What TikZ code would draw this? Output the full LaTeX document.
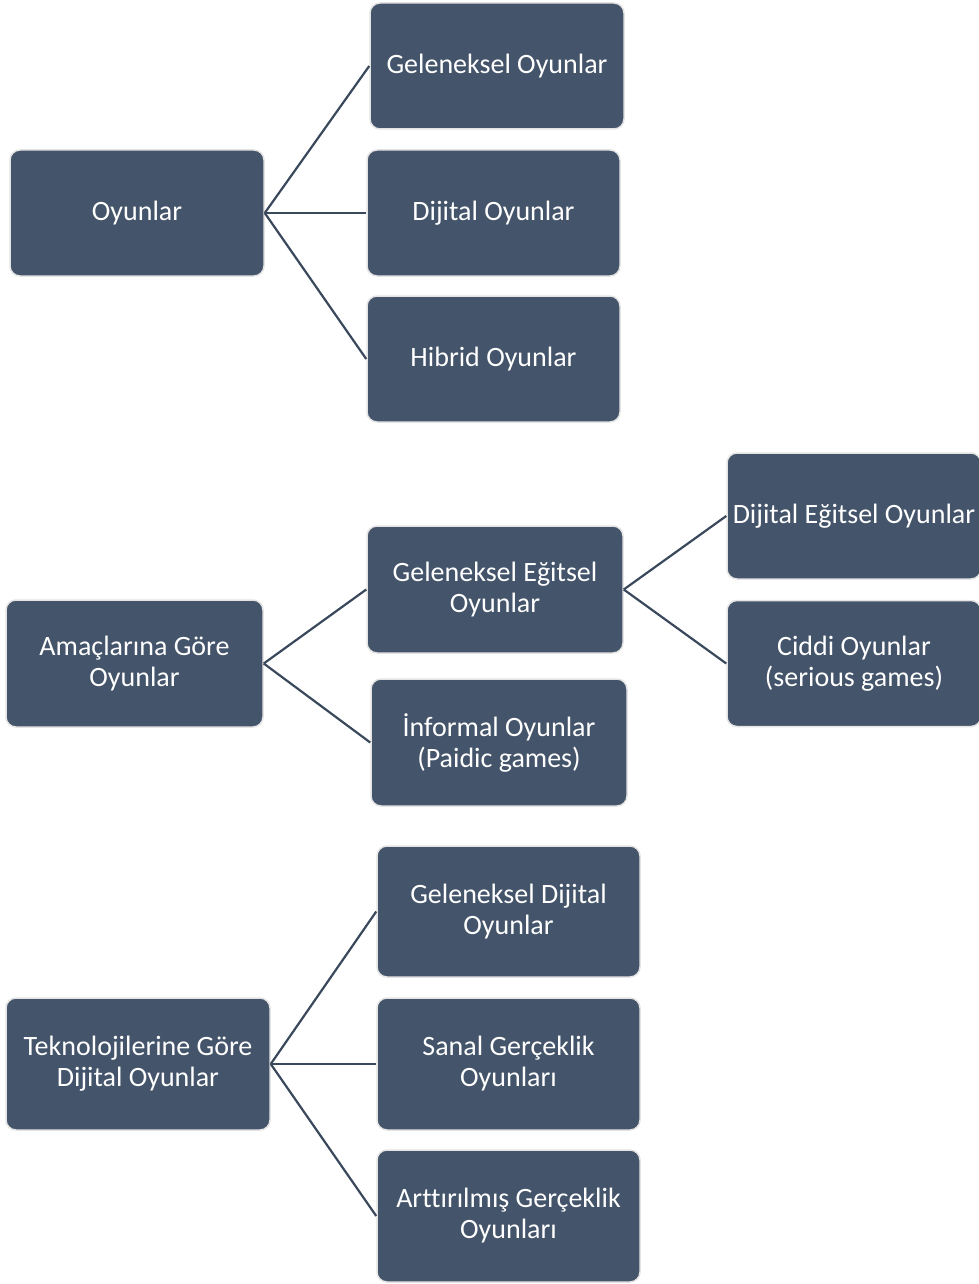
\documentclass[tikz,border=0pt]{standalone}
\usepackage{fontspec}
\setmainfont[Ligatures=NoCommon]{Carlito}
\definecolor{boxfill}{HTML}{44546A}
\definecolor{boxedge}{HTML}{E4E4E4}
\definecolor{linkcol}{HTML}{3A485C}
\begin{document}
\begin{tikzpicture}[x=1pt,y=-1pt,
  box/.style={draw=boxedge, line width=1.5pt, fill=boxfill, rounded corners=10pt,
    text=white, align=center, inner sep=0pt,
    font=\fontsize{28}{31}\selectfont},
  link/.style={draw=linkcol, line width=2.2pt}]
\useasboundingbox (0,0) rectangle (979,1284);
% first tree
\node[box, minimum width=254, minimum height=126] (o)  at (137,213)   {Oyunlar};
\node[box, minimum width=254, minimum height=126] (g1) at (497,66)    {Geleneksel Oyunlar};
\node[box, minimum width=253, minimum height=126] (d1) at (493.5,213) {Dijital Oyunlar};
\node[box, minimum width=253, minimum height=126] (h1) at (493.5,359) {Hibrid Oyunlar};
\draw[link] (o.east) -- (g1.west);
\draw[link] (o.east) -- (d1.west);
\draw[link] (o.east) -- (h1.west);
% second tree
\node[box, minimum width=257, minimum height=127] (a)   at (134.5,663.5) {Amaçlarına Göre\\Oyunlar};
\node[box, minimum width=256, minimum height=127] (ge)  at (495,589.5)   {Geleneksel Eğitsel\\Oyunlar};
\node[box, minimum width=256, minimum height=127] (inf) at (499,742.5)   {İnformal Oyunlar\\(Paidic games)};
\node[box, minimum width=254, minimum height=126] (de)  at (854,516)     {Dijital Eğitsel Oyunlar};
\node[box, minimum width=254, minimum height=126] (cd)  at (854,663.5)   {Ciddi Oyunlar\\(serious games)};
\draw[link] (a.east) -- (ge.west);
\draw[link] (a.east) -- (inf.west);
\draw[link] (ge.east) -- (de.west);
\draw[link] (ge.east) -- (cd.west);
% third tree
\node[box, minimum width=264, minimum height=132] (t)  at (138,1064)    {Teknolojilerine Göre\\Dijital Oyunlar};
\node[box, minimum width=263, minimum height=131] (gd) at (508.5,911.5) {Geleneksel Dijital\\Oyunlar};
\node[box, minimum width=263, minimum height=132] (sg) at (508.5,1064)  {Sanal Gerçeklik\\Oyunları};
\node[box, minimum width=263, minimum height=132] (ag) at (508.5,1216)  {Arttırılmış Gerçeklik\\Oyunları};
\draw[link] (t.east) -- (gd.west);
\draw[link] (t.east) -- (sg.west);
\draw[link] (t.east) -- (ag.west);
\end{tikzpicture}
\end{document}
